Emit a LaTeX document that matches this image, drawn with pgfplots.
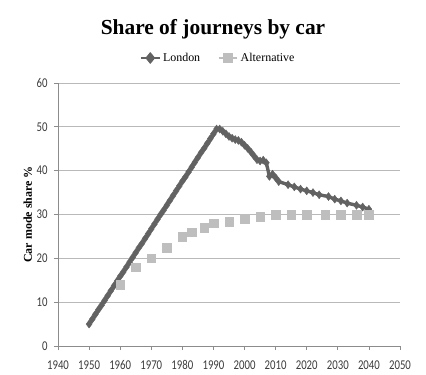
\documentclass[border=0pt]{standalone}
\usepackage{fontspec}
\setmainfont{Liberation Serif}
\newfontfamily\tickfont[FakeStretch=0.8]{Carlito}
\usepackage{pgfplots}
\pgfplotsset{compat=1.18}
\definecolor{londoncol}{RGB}{98,98,98}
\definecolor{altcol}{RGB}{190,190,190}
\definecolor{gridcol}{RGB}{185,185,185}
\definecolor{axiscol}{RGB}{140,140,140}
\definecolor{tickcol}{RGB}{60,60,60}
\begin{document}
\begin{tikzpicture}
\useasboundingbox (-58bp,-29bp) rectangle (368bp,346bp);
\begin{axis}[
  at={(0,0)}, anchor=south west,
  scale only axis, width=342bp, height=263bp,
  xmin=1940, xmax=2050, ymin=0, ymax=60,
  xtick={1940,1950,...,2050}, ytick={0,10,...,60},
  axis lines*=left,
  axis line style={axiscol, line width=0.8bp},
  major tick style={axiscol, line width=0.8bp},
  tick align=outside, major tick length=4bp,
  ymajorgrids, grid style={gridcol, line width=0.8bp},
  /pgf/number format/assume math mode=true,
  xticklabel={\pgfmathprintnumber[1000 sep={},assume math mode=true]{\tick}},
  yticklabel={\pgfmathprintnumber[assume math mode=true]{\tick}},
  x tick label style={font=\tickfont\fontsize{13.5}{15}\selectfont, text=tickcol, yshift=-7bp},
  y tick label style={font=\tickfont\fontsize{13.5}{15}\selectfont, text=tickcol, xshift=-3bp},
  ylabel={Car mode share \%},
  ylabel style={at={(axis description cs:-0.088,0.5)}, anchor=center, rotate=0, font=\bfseries\fontsize{12}{13}\selectfont},
  title={Share of journeys by car},
  title style={at={(axis description cs:0.5,1)}, anchor=center, yshift=48bp, xshift=-16bp, font=\bfseries\fontsize{21.5}{24}\selectfont},
  legend style={at={(0.5,1)}, anchor=center, yshift=25bp, xshift=-11bp, draw=none, fill=none, legend columns=2, font=\fontsize{12}{14}\selectfont, /tikz/every even column/.append style={column sep=15bp}},
  legend image post style={xscale=1.1},
  legend cell align=left,
  clip=false,
]
\addlegendimage{londoncol, line width=2.8bp, mark=diamond*, mark size=3.8bp, mark options={fill=londoncol, draw=londoncol}}
\addlegendentry{London}
\addlegendimage{altcol, line width=2.8bp, mark=square*, mark size=3.2bp, mark options={fill=altcol, draw=altcol}}
\addlegendentry{Alternative}
\addplot[forget plot, londoncol, line width=3.4bp, mark=diamond*, mark size=4bp, mark options={fill=londoncol, draw=londoncol, line width=0.4bp}] coordinates {
(1950,5.0) (1951,6.1) (1952,7.2) (1953,8.3) (1954,9.3) (1955,10.4) (1956,11.5) (1957,12.6) (1958,13.7) (1959,14.8)
(1960,15.9) (1961,16.9) (1962,18.0) (1963,19.1) (1964,20.2) (1965,21.3) (1966,22.4) (1967,23.4) (1968,24.5) (1969,25.6)
(1970,26.7) (1971,27.8) (1972,28.9) (1973,30.0) (1974,31.0) (1975,32.1) (1976,33.2) (1977,34.3) (1978,35.4) (1979,36.5)
(1980,37.6) (1981,38.6) (1982,39.7) (1983,40.8) (1984,41.9) (1985,43.0) (1986,44.1) (1987,45.1) (1988,46.2) (1989,47.3)
(1990,48.4) (1991,49.5) (1992,49.5) (1993,49.0) (1994,48.4) (1995,47.8) (1996,47.4) (1997,47.1) (1998,46.9) (1999,46.5)
(2000,45.8) (2001,45.1) (2002,44.3) (2003,43.4) (2004,42.5) (2005,42.2) (2006,42.4) (2007,41.8) (2008,38.7) (2009,39.2)
(2010,38.4) (2011,37.5) (2014,36.8) (2016,36.3) (2018,35.8) (2020,35.4) (2022,35.0) (2024,34.5) (2027,34.1) (2029,33.5)
(2031,33.1) (2033,32.6) (2036,32.1) (2038,31.7) (2040,31.2)
};
\addplot[forget plot, only marks, mark=square*, mark size=4.3bp, mark options={fill=altcol, draw=altcol}] coordinates {
(1960,14) (1965,18) (1970,20) (1975,22.4) (1980,25) (1983,26) (1987,27) (1990,28) (1995,28.4) (2000,29)
(2005,29.5) (2010,30) (2015,30) (2020,30) (2026,30) (2031,30) (2036,30) (2040,30)
};
\end{axis}
\end{tikzpicture}
\end{document}
